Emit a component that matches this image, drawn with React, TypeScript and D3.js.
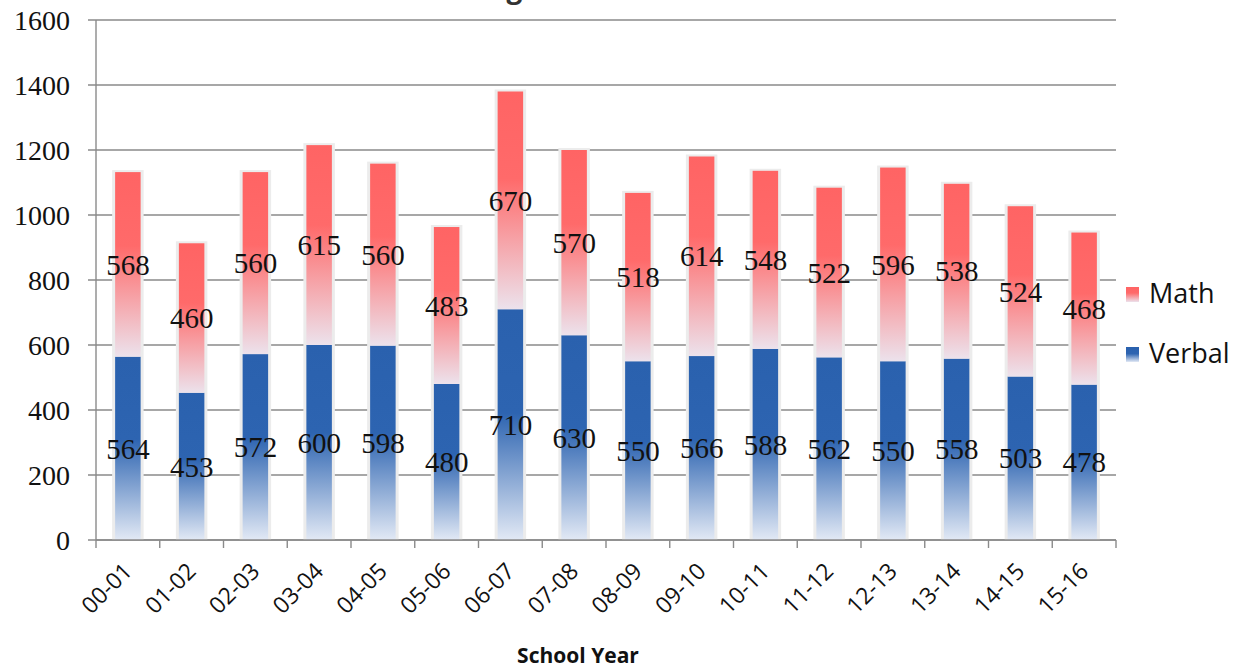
import React from "react";
import * as d3 from "d3";

const years = ["00-01", "01-02", "02-03", "03-04", "04-05", "05-06", "06-07", "07-08",
  "08-09", "09-10", "10-11", "11-12", "12-13", "13-14", "14-15", "15-16"];
const verbal = [564, 453, 572, 600, 598, 480, 710, 630, 550, 566, 588, 562, 550, 558, 503, 478];
const math = [568, 460, 560, 615, 560, 483, 670, 570, 518, 614, 548, 522, 596, 538, 524, 468];
const yTicks = [0, 200, 400, 600, 800, 1000, 1200, 1400, 1600];
const seriesNames = ["Math", "Verbal"];

const W = 1247;
const H = 670;
const left = 96, right = 1116, top = 20, bottom = 540;

const serif = "'Liberation Serif', 'DejaVu Serif', serif";
const sans = "'Open Sans', 'Noto Sans', sans-serif";

export default function App() {
  const x = d3.scaleBand<string>().domain(years).range([left, right]).padding(0);
  const y = d3.scaleLinear().domain([0, 1600]).range([bottom, top]);
  const bw = x.bandwidth() * 0.4;

  const rows = years.map((yr, i) => ({ yr, verbal: verbal[i], math: math[i] }));
  const stacked = d3.stack<any>().keys(["verbal", "math"])(rows);

  return (
    <svg width={W} height={H} style={{ position: "absolute", top: 0, left: 0, background: "#fff" }}>
      <defs>
        <linearGradient id="gVerbal" x1="0" y1="0" x2="0" y2="1">
          <stop offset="0" stopColor="#2a61ae" />
          <stop offset="0.45" stopColor="#2d64b1" />
          <stop offset="1" stopColor="#e2e9f5" />
        </linearGradient>
        <linearGradient id="gMath" x1="0" y1="0" x2="0" y2="1">
          <stop offset="0" stopColor="#ff6464" />
          <stop offset="0.4" stopColor="#ff6a6a" />
          <stop offset="1" stopColor="#ece2ec" />
        </linearGradient>
      </defs>

      {/* title, mostly cut off at the top like the source image */}
      <text x={560} y={-2} textAnchor="middle" fontFamily={sans} fontSize={28} fontWeight="bold" fill="#333">
        Average SAT Scores
      </text>

      {/* gridlines + y axis */}
      {yTicks.map(t => (
        <g key={t}>
          <line x1={left - 8} x2={right} y1={y(t)} y2={y(t)} stroke="#8a8a8a" strokeWidth={1.4} />
          <text x={70} y={y(t)} dy="0.35em" textAnchor="end" fontFamily={serif} fontSize={28} fill="#111">
            {t}
          </text>
        </g>
      ))}
      <line x1={left} x2={left} y1={top} y2={bottom} stroke="#8a8a8a" strokeWidth={1.4} />

      {/* bar glow */}
      {rows.map((r, i) => {
        const cx = x(r.yr)! + x.bandwidth() / 2;
        return (
          <rect key={"s" + i} x={cx - bw / 2 - 3} width={bw + 6}
            y={y(stacked[1][i][1]) - 2} height={y(0) - y(stacked[1][i][1]) + 2}
            fill="#ececec" />
        );
      })}

      {/* bars */}
      {stacked.map((s, si) => (
        <g key={s.key}>
          {s.map((d, i) => {
            const cx = x(years[i])! + x.bandwidth() / 2;
            return (
              <rect key={i} x={cx - bw / 2} width={bw} y={y(d[1])} height={y(d[0]) - y(d[1])}
                fill={si === 0 ? "url(#gVerbal)" : "url(#gMath)"} />
            );
          })}
        </g>
      ))}

      {/* data labels */}
      {stacked.map((s, si) => (
        <g key={"l" + s.key}>
          {s.map((d, i) => {
            const cx = x(years[i])! + x.bandwidth() / 2;
            return (
              <text key={i} x={cx} y={(y(d[0]) + y(d[1])) / 2} dy="0.35em" textAnchor="middle"
                fontFamily={serif} fontSize={29} fill="#111">
                {si === 0 ? verbal[i] : math[i]}
              </text>
            );
          })}
        </g>
      ))}

      {/* x axis */}
      <line x1={left} x2={right} y1={bottom} y2={bottom} stroke="#8a8a8a" strokeWidth={1.4} />
      {[...years.map(c => x(c)!), right].map((t, i) => (
        <line key={"t" + i} x1={t} x2={t} y1={bottom} y2={bottom + 8} stroke="#8a8a8a" strokeWidth={1.4} />
      ))}
      {years.map(c => {
        const cx = x(c)! + x.bandwidth() / 2;
        const ty = 567;
        return (
          <text key={c} x={cx} y={ty} transform={`rotate(-45 ${cx} ${ty})`} textAnchor="end" dy="0.35em"
            fontFamily={sans} fontSize={23} fill="#111">
            {c}
          </text>
        );
      })}
      <text x={578} y={663} textAnchor="middle" fontFamily={sans} fontSize={21} fontWeight="bold" fill="#111">
        School Year
      </text>

      {/* legend */}
      {seriesNames.map((n, i) => {
        const ly = 294 + i * 60;
        return (
          <g key={n}>
            <rect x={1126} y={ly - 7} width={13} height={15} fill={n === "Math" ? "url(#gMath)" : "url(#gVerbal)"} />
            <text x={1149} y={ly} dy="0.35em" fontFamily={sans} fontSize={27} fill="#111">{n}</text>
          </g>
        );
      })}
    </svg>
  );
}
